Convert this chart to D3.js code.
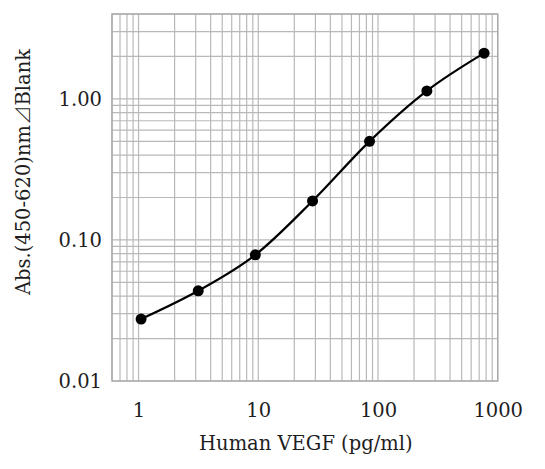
<!DOCTYPE html>
<html><head><meta charset="utf-8">
<script src="https://cdn.jsdelivr.net/npm/d3@7"></script>
<style>
html,body{margin:0;padding:0;background:#fff;}
svg{display:block;}
</style></head>
<body>
<svg id="chart" width="545" height="469"></svg>
<script>
// Data
const concentrations = [1.05, 3.15, 9.45, 28.4, 85, 256, 770]; // pg/ml
const absorbance = [0.0275, 0.0436, 0.0784, 0.189, 0.50, 1.14, 2.11];
const xTickValues = [1, 10, 100, 1000];
const xTickLabels = ["1", "10", "100", "1000"];
const yTickValues = [0.01, 0.1, 1];
const yTickLabels = ["0.01", "0.10", "1.00"];
const xTitle = "Human VEGF (pg/ml)";
const yTitleA = "Abs.(450-620)nm";
const yTitleSym = "\u22BF";
const yTitleB = "Blank";

const svg = d3.select("#chart");
const m = {left:112, right:497.7, top:14, bottom:381};
const x = d3.scaleLog().domain([0.6, 1000]).range([m.left, m.right]);
const y = d3.scaleLog().domain([0.01, 4]).range([m.bottom, m.top]);

const font = "'DejaVu Serif', 'Liberation Serif', serif";
const gridColor = "#b9b9b9";
const textColor = "#1e1e1e";

// grid lines
const xGrid = [];
[0.1,1,10,100].forEach(d => { for (let k=1;k<=9;k++){ const v=d*k; if (v>=0.6-1e-9 && v<=1000+1e-9) xGrid.push(v);} });
xGrid.push(1000);
const yGrid = [];
[0.01,0.1,1].forEach(d => { for (let k=1;k<=9;k++){ const v=d*k; if (v<=4+1e-9) yGrid.push(v);} });

const g = svg.append("g");
g.selectAll("line.xg").data(xGrid).enter().append("line")
  .attr("x1", d=>x(d)).attr("x2", d=>x(d)).attr("y1", m.top).attr("y2", m.bottom)
  .attr("stroke", gridColor).attr("stroke-width", 1.2);
g.selectAll("line.yg").data(yGrid).enter().append("line")
  .attr("y1", d=>y(d)).attr("y2", d=>y(d)).attr("x1", m.left).attr("x2", m.right)
  .attr("stroke", gridColor).attr("stroke-width", 1.2);
g.append("rect").attr("x", m.left).attr("y", m.top)
  .attr("width", m.right-m.left).attr("height", m.bottom-m.top)
  .attr("fill","none").attr("stroke","#a8a8a8").attr("stroke-width",1.4);

// axes (labels only)
const xAxis = d3.axisBottom(x).tickValues(xTickValues).tickFormat((d,i)=>xTickLabels[i]).tickSize(0).tickPadding(0);
const xa = svg.append("g").attr("transform", `translate(0,${m.bottom})`).call(xAxis);
xa.select(".domain").remove();
xa.selectAll("text").attr("font-family", font).attr("font-size", 19.5).attr("fill",textColor)
  .attr("dy", null).attr("y", 36);

const yAxis = d3.axisLeft(y).tickValues(yTickValues).tickFormat((d,i)=>yTickLabels[i]).tickSize(0).tickPadding(0);
const ya = svg.append("g").attr("transform", `translate(${m.left},0)`).call(yAxis);
ya.select(".domain").remove();
ya.selectAll("text").attr("font-family", font).attr("font-size", 19.5).attr("fill",textColor)
  .attr("x", -10).attr("dy", "0.35em");

svg.append("text").attr("x", (m.left+m.right)/2 + 1).attr("y", 450)
  .attr("text-anchor","middle").attr("font-family", font).attr("font-size", 19.5).attr("fill",textColor)
  .text(xTitle);
const yt = svg.append("text").attr("transform", "translate(30,172) rotate(-90)")
  .attr("text-anchor","middle").attr("font-family", font).attr("font-size", 19.5).attr("fill",textColor);
yt.append("tspan").text(yTitleA);
yt.append("tspan").attr("font-family", "'Noto Sans CJK JP', 'DejaVu Sans', sans-serif").attr("font-weight", 300).text(yTitleSym);
yt.append("tspan").text(yTitleB);

// line + points
const pts = concentrations.map((c,i)=>[c, absorbance[i]]);
const line = d3.line().x(d=>x(d[0])).y(d=>y(d[1])).curve(d3.curveMonotoneX);
svg.append("path").datum(pts).attr("d", line).attr("fill","none")
  .attr("stroke","#000").attr("stroke-width", 2.2);
svg.selectAll("circle.pt").data(pts).enter().append("circle")
  .attr("cx", d=>x(d[0])).attr("cy", d=>y(d[1])).attr("r", 5.5).attr("fill","#000");
</script>
</body></html>
